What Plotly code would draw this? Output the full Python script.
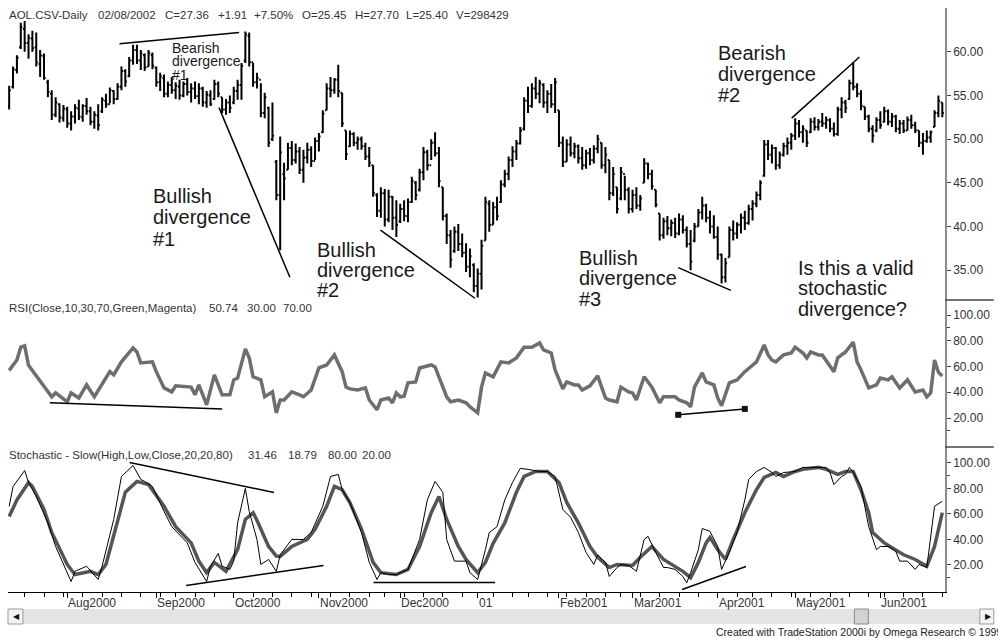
import pandas as pd
import plotly.graph_objects as go
from plotly.subplots import make_subplots

# ---------------- data ----------------
holidays = ["2000-09-04", "2000-11-23", "2000-12-25", "2001-01-01", "2001-01-15",
            "2001-02-19", "2001-04-13", "2001-05-28"]
dates = [d for d in pd.bdate_range("2000-07-11", "2001-06-25")
         if d.strftime("%Y-%m-%d") not in holidays]
bar_idx = list(range(len(dates)))

month_labels = ["Aug2000", "Sep2000", "Oct2000", "Nov2000", "Dec2000", "01",
                "Feb2001", "Mar2001", "Apr2001", "May2001", "Jun2001"]

high = [
    56.1, 58.3, 59.6, 63.3, 63.5, 62.0, 62.4, 62.2, 60.2, 59.8,
    56.8, 55.6, 54.8, 54.1, 53.9, 53.7, 53.2, 54.0, 54.5, 54.0,
    54.7, 53.7, 53.2, 54.0, 54.8, 55.2, 55.9, 55.6, 56.4, 58.3,
    58.0, 59.4, 60.8, 60.8, 60.2, 59.8, 60.2, 59.9, 58.3, 57.6,
    57.4, 56.6, 57.1, 56.5, 56.8, 56.6, 57.0, 56.4, 56.6, 56.4,
    56.0, 55.5, 55.6, 56.8, 56.6, 54.8, 54.6, 55.0, 56.0, 56.8,
    58.7, 62.3, 62.2, 58.7, 57.6, 56.4, 55.3, 53.7, 54.2, 47.6,
    50.3, 47.3, 49.6, 49.8, 49.5, 49.1, 48.8, 49.6, 49.2, 50.2,
    50.7, 53.3, 56.4, 57.1, 57.0, 58.5, 55.3, 51.0, 51.0, 50.8,
    50.3, 50.3, 49.6, 49.1, 47.0, 43.8, 44.5, 44.3, 44.2, 43.5,
    43.0, 42.6, 43.0, 43.2, 45.7, 45.2, 46.6, 49.1, 48.8, 50.0,
    50.8, 49.1, 44.5, 41.5, 39.6, 40.0, 40.3, 39.2, 38.1, 37.5,
    35.8, 35.2, 38.5, 43.4, 43.0, 42.8, 43.4, 45.3, 46.5, 48.0,
    49.2, 49.9, 51.4, 54.8, 56.0, 56.4, 57.1, 56.8, 56.4, 55.6,
    56.3, 57.0, 53.3, 50.3, 50.0, 50.3, 49.6, 49.4, 49.1, 48.8,
    49.0, 49.3, 50.5, 49.6, 49.1, 47.6, 46.8, 44.5, 46.8, 45.8,
    44.5, 44.2, 44.5, 43.6, 47.8, 47.3, 46.5, 44.2, 41.5, 41.0,
    41.2, 40.8, 41.0, 41.5, 41.3, 40.0, 39.6, 40.4, 42.0, 43.4,
    42.6, 41.8, 41.3, 40.0, 36.9, 36.4, 40.0, 40.7, 40.5, 41.5,
    41.8, 42.5, 43.0, 44.0, 45.3, 49.9, 49.9, 49.4, 49.1, 48.6,
    49.6, 50.2, 50.7, 52.4, 52.2, 51.6, 51.0, 52.4, 52.5, 52.3,
    53.0, 52.6, 52.4, 51.9, 53.7, 54.8, 54.5, 56.8, 58.7, 56.4,
    55.6, 53.7, 52.8, 51.6, 52.5, 53.2, 53.7, 53.4, 53.0, 52.8,
    52.2, 52.2, 52.6, 52.8, 52.0, 51.0, 50.7, 51.0, 51.0, 53.3,
    55.0, 54.2]
low = [
    53.4, 55.8, 57.5, 60.3, 60.0, 59.2, 60.0, 58.3, 57.1, 56.8,
    54.8, 52.2, 52.5, 51.9, 52.0, 51.3, 51.0, 51.8, 52.2, 52.0,
    52.8, 51.6, 51.2, 51.0, 53.0, 53.6, 54.1, 54.0, 54.5, 55.6,
    56.0, 57.1, 58.5, 58.6, 57.9, 57.8, 58.3, 58.0, 56.0, 55.5,
    54.8, 54.8, 55.2, 54.6, 54.5, 54.8, 55.0, 54.2, 54.6, 54.0,
    53.7, 53.6, 53.8, 54.5, 54.8, 53.0, 52.8, 53.0, 54.0, 54.5,
    54.5, 58.7, 58.3, 56.0, 55.8, 52.5, 52.4, 49.1, 49.8, 43.0,
    37.3, 43.0, 46.5, 47.0, 47.2, 46.0, 45.0, 47.2, 46.8, 47.6,
    48.6, 50.7, 53.3, 54.8, 55.2, 54.8, 51.4, 47.6, 49.1, 49.2,
    48.8, 48.8, 47.6, 46.8, 43.4, 41.1, 41.0, 40.0, 40.5, 39.6,
    38.8, 40.4, 40.6, 40.5, 42.7, 43.0, 44.0, 45.3, 46.4, 47.6,
    48.0, 44.5, 40.7, 38.0, 35.3, 37.0, 37.2, 36.5, 34.8, 34.2,
    32.5, 31.9, 32.8, 38.4, 39.4, 40.2, 40.7, 42.7, 44.5, 45.3,
    46.8, 47.6, 49.4, 51.0, 53.0, 53.6, 54.6, 54.1, 53.6, 53.0,
    53.6, 53.0, 49.1, 46.8, 47.4, 48.0, 47.8, 47.2, 46.5, 46.6,
    47.0, 47.2, 48.4, 46.6, 46.1, 43.0, 43.5, 41.5, 43.0, 43.0,
    41.5, 41.6, 42.0, 41.8, 45.0, 45.4, 44.2, 42.2, 38.4, 38.6,
    39.0, 38.9, 38.7, 39.0, 39.2, 37.6, 35.0, 38.2, 40.0, 40.8,
    40.5, 39.2, 38.6, 36.2, 33.5, 33.6, 36.5, 38.4, 38.6, 39.2,
    39.6, 40.2, 40.7, 42.2, 43.0, 45.7, 47.6, 47.2, 46.5, 46.6,
    48.0, 48.2, 48.8, 49.9, 50.2, 49.6, 49.1, 50.7, 51.0, 51.0,
    51.4, 51.2, 50.8, 50.3, 50.4, 52.4, 53.0, 54.5, 55.6, 54.8,
    53.3, 52.2, 50.8, 49.6, 50.8, 51.2, 51.9, 51.6, 51.4, 50.8,
    50.6, 50.7, 51.0, 51.2, 50.7, 49.1, 48.2, 49.6, 49.6, 51.4,
    52.5, 52.5]
open_ = [
    53.8, 56.0, 57.9, 60.5, 62.6, 61.0, 61.5, 60.5, 58.6, 59.5,
    56.5, 55.2, 52.8, 54.0, 52.4, 53.4, 51.8, 52.6, 53.5, 52.5,
    53.8, 53.2, 52.0, 52.7, 53.2, 54.4, 54.0, 55.5, 54.6, 56.0,
    57.8, 57.2, 59.0, 60.2, 59.0, 59.6, 58.3, 59.6, 58.2, 56.5,
    57.0, 55.2, 56.2, 55.6, 56.0, 55.0, 56.3, 55.4, 55.8, 54.9,
    55.8, 54.2, 55.0, 54.6, 56.3, 54.8, 53.4, 54.2, 54.2, 55.5,
    56.2, 59.0, 61.8, 58.8, 56.5, 56.8, 53.0, 53.6, 50.0, 47.4,
    43.6, 46.0, 46.5, 49.0, 47.6, 48.6, 46.5, 47.9, 48.8, 47.5,
    49.8, 50.8, 53.3, 55.8, 55.6, 56.8, 55.3, 51.0, 49.2, 50.6,
    49.6, 50.0, 49.2, 48.0, 47.0, 43.6, 41.8, 43.8, 40.8, 43.4,
    41.0, 40.6, 42.0, 41.2, 42.8, 45.0, 44.2, 46.2, 48.5, 47.0,
    49.6, 48.4, 44.5, 41.2, 39.0, 37.2, 39.4, 38.0, 37.0, 35.4,
    35.6, 33.2, 34.6, 38.4, 42.6, 40.2, 42.2, 42.8, 44.8, 46.0,
    47.6, 48.6, 49.5, 51.2, 54.4, 53.8, 55.8, 55.2, 56.2, 54.2,
    55.2, 54.0, 53.3, 49.6, 47.4, 49.4, 48.4, 49.2, 47.8, 47.0,
    48.4, 47.6, 48.9, 49.6, 47.0, 47.6, 43.8, 44.5, 43.2, 46.0,
    44.2, 42.0, 43.6, 42.4, 45.0, 47.2, 46.0, 44.2, 41.5, 39.0,
    40.6, 39.8, 40.4, 39.2, 40.8, 39.6, 38.0, 38.4, 40.0, 41.6,
    42.4, 41.0, 40.0, 38.8, 36.8, 34.2, 36.5, 39.6, 39.2, 40.2,
    41.0, 40.4, 42.0, 42.6, 43.6, 45.8, 49.4, 48.2, 49.0, 47.0,
    48.2, 49.2, 49.6, 50.4, 51.8, 50.8, 51.0, 50.8, 52.0, 51.4,
    52.0, 51.8, 52.2, 51.2, 50.6, 53.4, 54.2, 54.6, 56.4, 56.0,
    55.2, 53.7, 52.6, 51.2, 51.0, 52.2, 52.0, 53.2, 52.0, 52.6,
    51.2, 51.8, 51.0, 52.2, 51.6, 51.0, 49.6, 49.8, 50.2, 51.4,
    53.0, 54.2]
close = [
    55.6, 58.0, 59.3, 62.8, 61.0, 61.6, 60.4, 58.8, 59.6, 57.0,
    55.4, 52.8, 54.2, 52.5, 53.5, 51.8, 52.6, 53.6, 52.6, 53.8,
    53.2, 52.0, 52.8, 51.6, 54.5, 54.0, 55.6, 54.6, 56.0, 57.8,
    56.6, 59.0, 60.2, 59.0, 59.8, 58.2, 59.8, 58.4, 56.5, 57.2,
    55.2, 56.2, 55.6, 56.1, 55.0, 56.3, 55.4, 55.8, 54.9, 55.8,
    54.2, 55.1, 54.0, 56.3, 55.2, 53.4, 54.2, 53.6, 55.5, 56.2,
    58.4, 62.0, 58.8, 56.5, 57.0, 53.0, 54.8, 49.6, 50.4, 43.6,
    48.5, 45.5, 49.0, 47.6, 48.6, 46.5, 47.9, 48.8, 47.5, 49.8,
    50.3, 52.9, 55.8, 55.6, 56.8, 55.5, 51.8, 48.3, 50.6, 49.6,
    50.0, 49.2, 48.0, 47.3, 43.8, 41.8, 43.8, 40.8, 43.4, 41.0,
    40.2, 42.0, 41.2, 42.8, 45.2, 43.6, 46.2, 48.5, 47.0, 49.6,
    48.4, 45.2, 41.2, 39.0, 36.2, 39.4, 38.0, 37.0, 35.4, 36.6,
    33.2, 34.6, 37.8, 42.8, 40.2, 42.2, 41.2, 44.8, 46.0, 47.6,
    48.6, 49.5, 51.0, 54.4, 53.8, 55.8, 55.2, 56.4, 54.2, 55.2,
    54.0, 56.5, 49.6, 47.4, 49.4, 48.4, 49.2, 47.8, 47.0, 48.4,
    47.6, 48.9, 50.0, 47.0, 48.2, 43.8, 46.0, 42.0, 46.2, 44.2,
    42.0, 43.6, 42.4, 43.2, 47.2, 46.0, 44.6, 42.5, 39.0, 40.6,
    39.8, 40.4, 39.2, 40.8, 39.6, 38.0, 36.0, 40.0, 41.6, 42.4,
    41.0, 40.0, 38.8, 36.8, 34.2, 35.8, 39.6, 39.2, 40.2, 41.0,
    40.4, 42.0, 42.6, 43.6, 45.0, 49.4, 48.2, 49.0, 47.0, 48.2,
    49.2, 49.6, 50.4, 51.8, 50.8, 51.2, 49.6, 52.0, 51.4, 52.0,
    51.8, 52.2, 51.2, 50.6, 53.4, 54.2, 53.6, 56.4, 56.0, 55.2,
    53.8, 52.6, 51.2, 50.4, 52.2, 51.6, 53.2, 52.0, 52.6, 51.2,
    51.8, 51.0, 52.2, 51.6, 51.0, 49.6, 49.8, 50.2, 50.8, 53.0,
    54.4, 53.0]

# RSI(10) readings: bar index / value
rsi_bar = [0, 2, 3, 4, 5, 6, 9, 11, 12, 15, 16, 18, 20, 22, 26, 27, 29, 32, 33, 34,
           37, 38, 40, 42, 43, 47, 48, 49, 51, 53, 55, 57, 58, 59, 61, 62, 63, 65, 66, 68,
           69, 70, 71, 73, 75, 76, 78, 79, 80, 82, 84, 86, 87, 88, 90, 92, 93, 95, 96, 98,
           99, 100, 101, 102, 103, 105, 106, 109, 110, 113, 114, 116, 118, 119, 121, 122, 123, 125, 127, 129,
           131, 133, 135, 137, 138, 140, 141, 143, 144, 146, 147, 148, 150, 152, 154, 155, 157, 158, 160, 161,
           162, 164, 166, 168, 169, 170, 172, 173, 175, 176, 177, 179, 180, 182, 183, 184, 186, 188, 190, 193,
           195, 196, 197, 198, 200, 202, 203, 205, 206, 207, 209, 210, 211, 213, 214, 216, 218, 219, 220, 222,
           224, 225, 227, 228, 230, 232, 234, 236, 237, 238, 239, 240, 241]
rsi_val = [57, 65, 75, 76, 61, 57, 44, 36.5, 39.5, 32.6, 39.5, 35.6, 45.7, 36.5, 56, 53.5, 63.6, 74.4, 71.3, 62.8,
           63.6, 56, 43.4, 40.3, 45, 44, 38, 45.7, 30.2, 53.5, 38, 38, 49.6, 51, 73.6, 66.7, 52, 49.6, 36.5, 40.3,
           24, 34, 34, 40.3, 38, 36.5, 41.8, 49.6, 58.9, 61.2, 69, 56, 44, 42.6, 41.8, 43.4, 34, 26.4, 34, 35.6,
           31.8, 39.5, 36.5, 37, 47.3, 48, 58.9, 61.2, 59.7, 36.5, 32.6, 34, 31.8, 28.7, 24, 44, 55, 52, 63.6, 62.8,
           66.7, 75, 75, 78.3, 72.9, 70.5, 57.4, 42.6, 48, 45.7, 45.7, 41.8, 45, 52.7, 35.6, 34, 32.6, 44, 40.3, 39.5,
           34, 52, 44, 31.8, 36.5, 36.5, 36.5, 34, 31.8, 28.7, 44, 55, 48, 45.7, 35.6, 29.5, 47.3, 49.6, 56, 63.6,
           76.7, 69, 65, 63.6, 69, 70.5, 75, 70.5, 66.7, 71.3, 69, 69, 65, 56, 66.7, 71.3, 79, 63.6, 57.4, 43.4,
           45.7, 51, 49.6, 52, 43.4, 49.6, 40.3, 41.8, 36.5, 39.5, 65, 55.5, 52.7]

# Slow stochastic readings: %K (thin) and %D (thick)
k_bar = [0, 1, 4, 5, 7, 10, 12, 14, 16, 17, 19, 20, 23, 24, 27, 29, 32, 34, 35, 37,
         40, 42, 46, 48, 51, 52, 54, 55, 57, 58, 59, 61, 62, 64, 65, 67, 69, 70, 73, 76,
         78, 81, 83, 85, 86, 88, 91, 93, 95, 96, 98, 100, 103, 106, 108, 110, 112, 113, 115, 118,
         119, 121, 123, 124, 126, 128, 130, 132, 134, 137, 139, 141, 143, 145, 147, 149, 151, 152, 154, 155,
         157, 158, 160, 162, 164, 165, 167, 169, 170, 172, 174, 175, 176, 178, 179, 181, 183, 184, 186, 188,
         190, 191, 193, 195, 197, 198, 200, 203, 205, 208, 211, 212, 213, 215, 216, 217, 218, 220, 221, 222,
         224, 225, 227, 229, 230, 232, 234, 235, 237, 239, 241]
k_val = [66, 81.5, 94, 84.7, 73.7, 53, 34.5, 20.4, 7, 15, 18, 19, 8.6, 19, 55.7, 89.4, 98, 87, 85.5, 81.6,
         62, 50, 37.3, 22, 7, 19, 29, 19, 16.5, 23, 53, 80, 62, 40, 20.4, 24.3, 15, 28, 40, 40,
         45.5, 66, 89.4, 91, 79, 69, 45.5, 22, 8.6, 14, 12.5, 12.5, 16.5, 40, 71, 85.5, 77, 40, 23, 23,
         14, 8.6, 32, 45.5, 50, 71, 84.7, 95.7, 95, 93.3, 93.3, 89.4, 63.5, 57.4, 45.5, 29.8, 20.4, 28, 22, 11,
         18, 20.4, 19.6, 15, 40, 42.4, 29.8, 18, 18, 16.5, 11, 6, 14, 32, 48.6, 46.3, 34.5, 16.5, 29.8, 45.5,
         71, 87, 93.3, 96.5, 92.5, 89.4, 92.5, 93.3, 96.5, 96.5, 96.5, 92.5, 83, 89.4, 91, 96.5, 92.5, 81.6, 66, 50,
         32, 34.5, 34.5, 30.6, 23, 23, 16.5, 20.4, 18, 66, 70]
d_bar = [0, 2, 5, 6, 9, 11, 15, 17, 21, 23, 25, 28, 30, 33, 36, 40, 43, 47, 49, 51,
         53, 56, 59, 61, 63, 64, 66, 67, 69, 70, 73, 77, 79, 82, 84, 86, 88, 91, 94, 96,
         100, 103, 106, 109, 111, 113, 116, 118, 121, 123, 125, 128, 131, 133, 136, 139, 142, 144, 147, 150,
         152, 155, 157, 161, 163, 166, 169, 171, 174, 176, 178, 180, 181, 183, 185, 187, 190, 193, 195, 198,
         200, 203, 205, 209, 211, 214, 216, 218, 220, 222, 223, 226, 229, 231, 234, 236, 237, 239, 241]
d_val = [58, 71, 84.7, 81.6, 63.5, 45.5, 20.4, 12.5, 15, 12.5, 20.4, 53, 77, 85.5, 83, 66, 50, 37.3, 23, 14,
         22, 15, 32, 55.7, 61, 55, 42, 34.5, 27, 26.7, 34.5, 40, 48, 66, 81.6, 79, 69, 48, 22, 14,
         12.5, 16.5, 34.5, 61, 73.7, 55.7, 34.5, 24.3, 14, 22, 37, 53, 77, 89.4, 93.3, 93.3, 84.7, 69, 53, 34.5,
         26, 18, 20.4, 19.6, 26, 34.5, 24.3, 20.4, 15, 10, 22, 37.3, 41.6, 32, 24.3, 40, 61, 79, 88.6, 92.5,
         89.4, 93.3, 95, 96.5, 95, 91, 93.3, 93.3, 79, 61, 45.5, 37.3, 32, 28, 24.3, 20.4, 19, 34.5, 61]

# hand-drawn divergence lines: (bar, value) start / end
price_div = [((28.5, 60.9), (59.4, 62.2)), ((54.2, 53.6), (72.5, 34.2)),
             ((95.9, 39.6), (120.3, 31.8)), ((172.8, 35.3), (186.4, 32.7)),
             ((202.1, 52.4), (219.6, 59.4))]
rsi_div = [((10.5, 31.8), (55.0, 27.1))]
rsi_div_marked = [((172.8, 22.5), (190.0, 27.1))]
stoch_div = [((31.1, 100.4), (68.4, 76.9)), ((45.7, 3.9), (81.2, 19.6)),
             ((94.1, 6.3), (125.5, 6.3)), ((173.8, 0.8), (190.3, 18.8))]

price_ticks = [35, 40, 45, 50, 55, 60]
osc_ticks = [20, 40, 60, 80, 100]
rsi_levels = [30, 70]
stoch_levels = [20, 50, 80]

price_header = [("AOL.CSV-Daily", 8), ("02/08/2002", 97), ("C=27.36", 165), ("+1.91", 218),
                ("+7.50%", 254), ("O=25.45", 302), ("H=27.70", 355), ("L=25.40", 407),
                ("V=298429", 457)]
rsi_header = [("RSI(Close,10,30,70,Green,Magenta)", 8), ("50.74", 209), ("30.00", 247),
              ("70.00", 283)]
stoch_header = [("Stochastic - Slow(High,Low,Close,20,20,80)", 8), ("31.46", 248),
                ("18.79", 288), ("80.00", 328), ("20.00", 363)]

notes = [
    (["Bullish", "divergence", "#1"], 153, 195.5, 21.5, 20),
    (["Bearish", "divergence", "#1"], 172, 48, 13.5, 14),
    (["Bullish", "divergence", "#2"], 317, 249.5, 20.3, 20),
    (["Bullish", "divergence", "#3"], 580, 257.5, 20.8, 20),
    (["Bearish", "divergence", "#2"], 720, 52.5, 21.2, 20),
    (["Is this a valid", "stochastic", "divergence?"], 800, 267.5, 20.5, 20),
]

# ---------------- figure ----------------
W, H = 998, 638
ML, MR, MT, MB = 8, 49, 8, 46
PW, PH = W - ML - MR, H - MT - MB


def pp(px, py):
    return (px - ML) / PW, (H - MB - py) / PH


FONT = "Liberation Sans, Arial, sans-serif"

# month / week tick positions from the trading-day calendar
month_ticks = [i for i in range(1, len(dates)) if dates[i].month != dates[i - 1].month]
week_ticks = [i for i in range(1, len(dates))
              if dates[i].isocalendar()[1] != dates[i - 1].isocalendar()[1]
              and i not in month_ticks]

fig = make_subplots(rows=3, cols=1, shared_xaxes=True, vertical_spacing=0,
                    row_heights=[292, 147, 145])

fig.add_trace(go.Ohlc(x=bar_idx, open=open_, high=high, low=low, close=close,
                      increasing=dict(line=dict(color="black", width=2)),
                      decreasing=dict(line=dict(color="black", width=2)),
                      tickwidth=0.42, hoverinfo="skip", showlegend=False), row=1, col=1)

for (a, b) in price_div:
    fig.add_trace(go.Scatter(x=[a[0], b[0]], y=[a[1], b[1]], mode="lines",
                             line=dict(color="black", width=1.5), hoverinfo="skip",
                             showlegend=False), row=1, col=1)

for lv in rsi_levels:
    fig.add_hline(y=lv, line=dict(color="black", width=2), row=2, col=1)
fig.add_trace(go.Scatter(x=rsi_bar, y=rsi_val, mode="lines",
                         line=dict(color="#6e6e6e", width=3.5), hoverinfo="skip",
                         showlegend=False), row=2, col=1)
for (a, b) in rsi_div:
    fig.add_trace(go.Scatter(x=[a[0], b[0]], y=[a[1], b[1]], mode="lines",
                             line=dict(color="black", width=1.5), hoverinfo="skip",
                             showlegend=False), row=2, col=1)
for (a, b) in rsi_div_marked:
    fig.add_trace(go.Scatter(x=[a[0], b[0]], y=[a[1], b[1]], mode="lines+markers",
                             line=dict(color="black", width=1.5),
                             marker=dict(symbol="square", size=6, color="#111"),
                             hoverinfo="skip", showlegend=False), row=2, col=1)

for lv in stoch_levels:
    fig.add_hline(y=lv, line=dict(color="black", width=2), row=3, col=1)
fig.add_trace(go.Scatter(x=d_bar, y=d_val, mode="lines",
                         line=dict(color="#555555", width=3.5), hoverinfo="skip",
                         showlegend=False), row=3, col=1)
fig.add_trace(go.Scatter(x=k_bar, y=k_val, mode="lines",
                         line=dict(color="black", width=1), hoverinfo="skip",
                         showlegend=False), row=3, col=1)
for (a, b) in stoch_div:
    fig.add_trace(go.Scatter(x=[a[0], b[0]], y=[a[1], b[1]], mode="lines",
                             line=dict(color="black", width=1.5), hoverinfo="skip",
                             showlegend=False), row=3, col=1)

xr = [-0.3, len(dates) - 0.3]
fig.update_xaxes(range=xr, showgrid=False, zeroline=False, showticklabels=False,
                 rangeslider_visible=False)
fig.update_xaxes(row=3, col=1, showline=True, linecolor="black", linewidth=1,
                 ticks="outside", ticklen=5, tickcolor="black", tickwidth=1,
                 tickmode="array", tickvals=month_ticks, ticktext=[""] * len(month_ticks),
                 minor=dict(tickmode="array", tickvals=week_ticks, ticks="outside",
                            ticklen=4, tickcolor="black", tickwidth=1))

yax = dict(side="right", showgrid=False, zeroline=False, showline=True,
           linecolor="#8c8c8c", linewidth=1.5, ticks="outside", ticklen=4,
           tickcolor="#444", tickformat=".2f",
           tickfont=dict(family=FONT, size=12, color="#333"))
fig.update_yaxes(row=1, col=1, range=[31.6, 65.0], tickvals=price_ticks, **yax)
fig.update_yaxes(row=2, col=1, range=[-2.5, 111.65], tickvals=osc_ticks,
                 minor=dict(tickmode="array", tickvals=[10, 90], ticks="outside",
                            ticklen=3, tickcolor="#444"), **yax)
fig.update_yaxes(row=3, col=1, range=[-1.2, 112.5], tickvals=osc_ticks,
                 minor=dict(tickmode="array", tickvals=[10, 90], ticks="outside",
                            ticklen=3, tickcolor="#444"), **yax)

ann = []


def text(t, px, py, size, color="#333", anchor="left"):
    x, y = pp(px, py)
    ann.append(dict(text=t, x=x, y=y, xref="paper", yref="paper", xanchor=anchor,
                    yanchor="middle", showarrow=False, borderpad=0,
                    font=dict(family=FONT, size=size, color=color)))


for t, px in price_header:
    text(t, px, 15, 11.5)
for t, px in rsi_header:
    text(t, px, 308, 11.5)
for t, px in stoch_header:
    text(t, px, 455, 11.5)

for lines, px, y0, step, size in notes:
    for k, t in enumerate(lines):
        text(t, px, y0 + k * step, size, color="#1a1a1a")

# month labels, left-aligned at their tick
ly = pp(0, 603)[1]
for lab, i in zip(month_labels, month_ticks):
    ann.append(dict(text=lab, x=i, y=ly, xref="x3", yref="paper", xanchor="left",
                    yanchor="middle", showarrow=False, borderpad=0, xshift=0,
                    font=dict(family=FONT, size=12, color="#333")))

text("Created with TradeStation 2000i by Omega Research \u00a9 1999", 718, 632, 10.5,
     color="#222")

shapes = []
# separators in the price-axis column
for py in (300, 447):
    y = pp(0, py)[1]
    shapes.append(dict(type="line", xref="paper", yref="paper", x0=1, x1=(W - ML) / PW,
                       y0=y, y1=y, line=dict(color="#444", width=1.5)))
# scroll bar
sx0, sx1 = pp(8, 0)[0], pp(998, 0)[0]
sy0, sy1 = pp(0, 609)[1], pp(0, 624)[1]
shapes.append(dict(type="rect", xref="paper", yref="paper", x0=sx0, x1=sx1, y0=sy0, y1=sy1,
                   fillcolor="#e4e4e4", line=dict(width=0), layer="above"))
for a, b in ((8, 23), (984, 998)):
    shapes.append(dict(type="rect", xref="paper", yref="paper", x0=pp(a, 0)[0],
                       x1=pp(b, 0)[0], y0=sy0, y1=sy1, fillcolor="#f4f4f4",
                       line=dict(color="#9a9a9a", width=1), layer="above"))
shapes.append(dict(type="rect", xref="paper", yref="paper", x0=pp(858, 0)[0],
                   x1=pp(872, 0)[0], y0=sy0, y1=sy1, fillcolor="#d2d2d2",
                   line=dict(color="#8a8a8a", width=1), layer="above"))
text("\u25c0", 12, 616.5, 8, color="#111")
text("\u25b6", 988, 616.5, 8, color="#111")

fig.update_layout(width=W, height=H, autosize=False, paper_bgcolor="white",
                  plot_bgcolor="white", margin=dict(l=ML, r=MR, t=MT, b=MB),
                  showlegend=False, annotations=ann, shapes=list(fig.layout.shapes) + shapes,
                  font=dict(family=FONT))

fig.write_html("out.html", config={"displayModeBar": False},
               post_script="document.body.style.margin='0';")
